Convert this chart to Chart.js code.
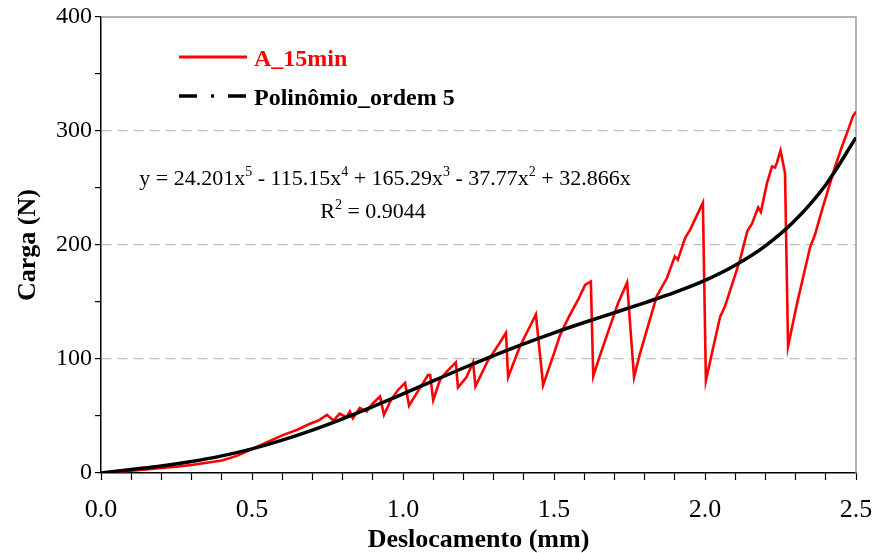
<!DOCTYPE html>
<html><head><meta charset="utf-8">
<script src="https://cdn.jsdelivr.net/npm/chart.js@4.4.1/dist/chart.umd.min.js"></script>
<style>html,body{margin:0;padding:0;background:#fff;}#wrap{width:874px;height:553px;position:relative;}</style>
</head><body><div id="wrap"><canvas id="c" width="874" height="553"></canvas></div>
<script>
const seriesAName = 'A_15min';
const seriesBName = 'Polinômio_ordem 5';
const xTitle = 'Deslocamento (mm)';
const yTitle = 'Carga (N)';
const equationText = [['y = 24.201x',0],['5',1],[' - 115.15x',0],['4',1],[' + 165.29x',0],['3',1],[' - 37.77x',0],['2',1],[' + 32.866x',0]];
const r2Text = [['R',0],['2',1],[' = 0.9044',0]];

const redX = [0,0.05,0.1,0.15,0.2,0.25,0.3,0.35,0.4,0.45,0.5,0.55,0.6,0.65,0.69,0.72,0.748,0.77,0.79,0.813,0.824,0.834,0.857,0.88,0.9,0.924,0.937,0.96,0.984,1.007,1.02,1.05,1.083,1.09,1.1,1.123,1.145,1.175,1.182,1.21,1.232,1.24,1.28,1.32,1.341,1.348,1.387,1.44,1.464,1.5,1.52,1.553,1.58,1.603,1.622,1.63,1.652,1.712,1.742,1.765,1.785,1.84,1.874,1.9,1.91,1.934,1.95,1.993,2.003,2.023,2.05,2.066,2.116,2.14,2.156,2.176,2.185,2.205,2.222,2.232,2.238,2.25,2.265,2.275,2.305,2.348,2.364,2.39,2.43,2.453,2.474,2.49,2.5];
const redY = [0,1,2,3,4.5,5.5,7,9,11,15,21,27,33,38,43,46,51,46,52,49,54,48,57,54,61,67,51,64,73,79,59,72,86,86,64,82,89,97,75,84,97,76,98,114,123,84,111,139,77,105,121,139,152,165,168,85,103,149,167,84,105,155,171,190,187,206,213,237,81,105,137,146,187,212,219,233,229,254,269,268,272,283,263,111,149,198,209,233,268,286,301,313,317];

const fitX = [0,0.1,0.2,0.3,0.4,0.5,0.6,0.7,0.8,0.9,1.0,1.1,1.2,1.3,1.4,1.5,1.6,1.7,1.8,1.9,2.0,2.1,2.2,2.3,2.4,2.5];
const fitY = [0,3.1,6.2,10.1,15.0,21.2,28.8,37.6,47.5,58.2,69.4,80.8,92.1,103.0,113.3,123.0,132.0,140.6,149.3,158.4,168.9,182.2,199.2,222.1,252.9,294.2];

const xTickLabels = ['0.0','0.5','1.0','1.5','2.0','2.5'];
const yTickLabels = ['0','100','200','300','400'];

const SERIF = '"Liberation Serif", "Times New Roman", serif';

function drawRich(ctx, parts, cx, baseline, size, supSize, supRaise) {
  let w = 0;
  parts.forEach(p => { ctx.font = (p[1] ? supSize : size) + 'px ' + SERIF; w += ctx.measureText(p[0]).width; });
  let x = cx - w / 2;
  ctx.textAlign = 'left';
  ctx.textBaseline = 'alphabetic';
  parts.forEach(p => {
    ctx.font = (p[1] ? supSize : size) + 'px ' + SERIF;
    ctx.fillText(p[0], x, baseline - (p[1] ? supRaise : 0));
    x += ctx.measureText(p[0]).width;
  });
}

const overlay = {
  id: 'overlay',
  beforeDatasetsDraw(chart) {
    const {ctx, chartArea: a} = chart;
    ctx.save();
    ctx.strokeStyle = '#9a9a9a';
    ctx.lineWidth = 1.5;
    ctx.beginPath();
    ctx.moveTo(a.left, a.top); ctx.lineTo(a.right, a.top); ctx.lineTo(a.right, a.bottom);
    ctx.stroke();
    ctx.restore();
  },
  afterDraw(chart) {
    const {ctx, chartArea: a} = chart;
    ctx.save();
    const lx0 = a.left + 78, lx1 = a.left + 146, tx = a.left + 153;
    ctx.strokeStyle = '#ff0000'; ctx.lineWidth = 3; ctx.setLineDash([]);
    ctx.beginPath(); ctx.moveTo(lx0, a.top + 40); ctx.lineTo(lx1, a.top + 40); ctx.stroke();
    ctx.fillStyle = '#ff0000'; ctx.font = 'bold 24px ' + SERIF; ctx.textAlign = 'left'; ctx.textBaseline = 'alphabetic';
    ctx.fillText(seriesAName, tx, a.top + 49);
    ctx.strokeStyle = '#000'; ctx.lineWidth = 3.5; ctx.setLineDash([18, 14, 3, 14]);
    ctx.beginPath(); ctx.moveTo(lx0, a.top + 79); ctx.lineTo(lx1, a.top + 79); ctx.stroke();
    ctx.setLineDash([]);
    ctx.fillStyle = '#000';
    ctx.fillText(seriesBName, tx, a.top + 88);
    ctx.fillStyle = '#000';
    drawRich(ctx, equationText, a.left + 284, a.top + 168, 22, 14, 9);
    drawRich(ctx, r2Text, a.left + 272, a.top + 201, 22, 14, 9);
    ctx.restore();
  }
};

const isMult = (v, s) => Math.abs(v / s - Math.round(v / s)) < 1e-6;

new Chart(document.getElementById('c'), {
  type: 'line',
  data: {
    datasets: [
      { label: seriesAName, data: redX.map((x, i) => ({x, y: redY[i]})), borderColor: '#ff0000', borderWidth: 2.6, pointRadius: 0, tension: 0, order: 2, fill: false },
      { label: seriesBName, data: fitX.map((x, i) => ({x, y: fitY[i]})), borderColor: '#000000', borderWidth: 3.5, pointRadius: 0, cubicInterpolationMode: 'monotone', order: 1, fill: false }
    ]
  },
  options: {
    responsive: false, animation: false, devicePixelRatio: 1,
    layout: { autoPadding: false, padding: { top: 17, right: 18, left: 0, bottom: 0 } },
    plugins: { legend: { display: false }, tooltip: { enabled: false } },
    scales: {
      x: {
        type: 'linear', min: 0, max: 2.5,
        afterFit(s) { s.height = 80; s.paddingRight = 0; s.paddingLeft = 0; },
        ticks: { stepSize: 0.1, autoSkip: false, maxRotation: 0, color: '#000', padding: 15,
          font: { family: SERIF, size: 26 },
          callback(v) { const s = Number(v).toFixed(1); return (isMult(v, 0.5) && xTickLabels.includes(s)) ? s : ''; } },
        grid: { drawOnChartArea: false, drawTicks: true, tickLength: 7, tickColor: '#000', tickWidth: 1.2 },
        border: { display: true, color: '#000', width: 1.5 },
        title: { display: true, text: xTitle, color: '#000', padding: { top: 0, bottom: 0 }, font: { family: SERIF, size: 26, weight: 'bold', lineHeight: 1 } }
      },
      y: {
        type: 'linear', min: 0, max: 400,
        afterFit(s) { s.width = 101; s.paddingTop = 0; s.paddingBottom = 0; },
        ticks: { stepSize: 50, autoSkip: false, color: '#000', padding: 3,
          font: { family: SERIF, size: 24 },
          callback(v) { const s = String(Math.round(v)); return yTickLabels.includes(s) ? s : ''; } },
        grid: {
          drawOnChartArea: true, drawTicks: true, tickLength: 6, tickWidth: 1.2,
          tickColor: '#000', tickBorderDash: [],
          color(c) { const v = c.tick && c.tick.value; return (v === 100 || v === 200 || v === 300) ? '#bdbdbd' : 'rgba(0,0,0,0)'; },
          lineWidth: 1.2
        },
        border: { display: true, color: '#000', width: 1.5, dash: [10, 6] },
        title: { display: true, text: yTitle, color: '#000', padding: { top: 15, bottom: 0 }, font: { family: SERIF, size: 26, weight: 'bold', lineHeight: 1 } }
      }
    }
  },
  plugins: [overlay]
});
</script></body></html>
